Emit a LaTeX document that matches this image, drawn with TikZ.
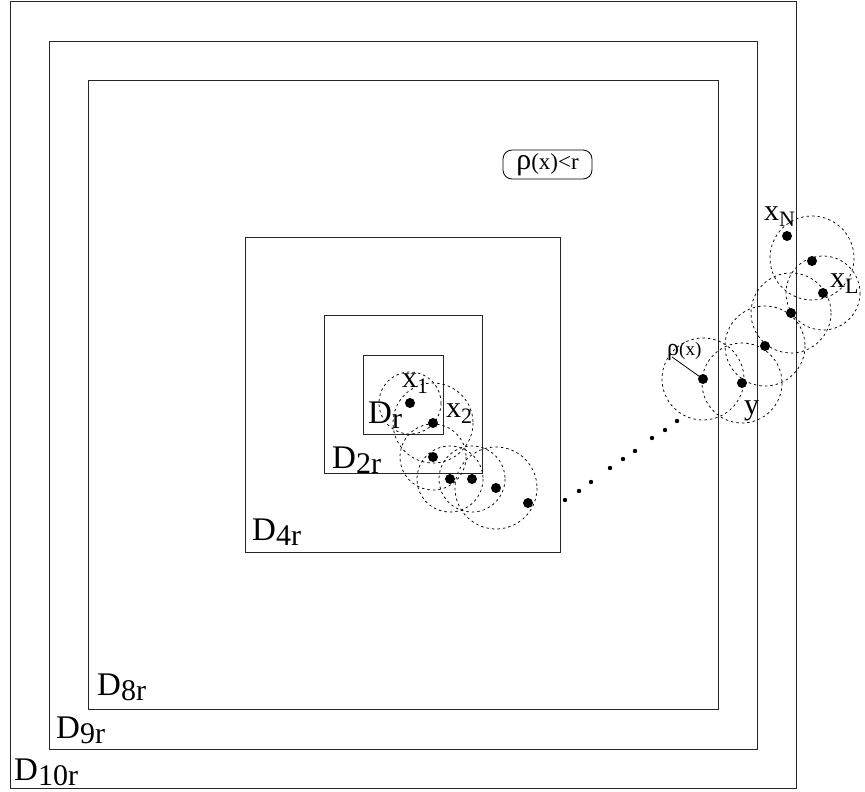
\documentclass[tikz,border=0pt]{standalone}
\usepackage{fontspec}
\setmainfont{Liberation Serif}
\begin{document}
\begin{tikzpicture}[x=1pt,y=-1pt,
  sq/.style={draw=black!85,line width=0.9pt},
  dcirc/.style={draw,line width=0.75pt,dash pattern=on 2.5pt off 3pt},
  bigdot/.style={fill=black},
  lab/.style={anchor=base west,inner sep=0pt,font=\fontsize{33}{35}\selectfont},
  sublab/.style={anchor=base west,inner sep=0pt,font=\fontsize{30}{32}\selectfont}]
\useasboundingbox (0,0) rectangle (865,792);
% squares
\draw[sq] (10,1) rectangle (796,788);
\draw[sq] (49,41) rectangle (757,749);
\draw[sq] (88,80) rectangle (718,709);
\draw[sq] (245,237) rectangle (560,552);
\draw[sq] (324,315) rectangle (482,473);
\draw[sq] (363,355) rectangle (443,434);
% labels of squares
\newcommand{\Dlab}[1]{D\raisebox{-5pt}{\fontsize{30}{32}\selectfont #1}}
\node[lab] (l10) at (14,780) {\Dlab{10r}};
\node[lab] (l9) at (56,738) {\Dlab{9r}};
\node[lab] (l8) at (97,695) {\Dlab{8r}};
\node[lab] (l4) at (252,540) {\Dlab{4r}};
\node[lab] (l2) at (332,468) {\Dlab{2r}};
\node[lab] (l1) at (368,423) {\Dlab{r}};
% box
\node[draw,rounded corners=9pt,line width=0.8pt,minimum width=89pt,minimum height=29pt,inner sep=0pt] (cond) at (547.5,164.5)
  {\fontsize{30}{32}\selectfont ρ\fontsize{23}{25}\selectfont(x)<r};
% left chain
\foreach \n/\x/\y/\r in {a/410/403/31, b/433/423/40, c/433/457/33, d/450/479/33, e/472/479/33, f/496/488/41}{
  \draw[dcirc] (\x,\y) circle (\r);
  \fill[bigdot] (\x,\y) circle (5) coordinate (\n);
}
\fill[bigdot] (528,503) circle (5);
% small dots
\foreach \x/\y in {565/500,579/491,591/482,610/468,623/459,635/451,652/438,665/430,677/421}{
  \fill (\x,\y) circle (2.2);
}
% right cluster
\foreach \n/\x/\y/\r in {p/703/379/41, q/742/383/40, s/765/346/40, t/791/313/40, u/812/258/42, v/823/293/37}{
  \draw[dcirc] (\x,\y) circle (\r);
}
\foreach \n/\x/\y in {p/703/379, q/742/383, s/765/346, t/791/313, u/812/261, v/823/293, w/787/236}{
  \fill[bigdot] (\x,\y) circle (5) coordinate (\n);
}
\coordinate (rhoend) at (672,357);
\draw[line width=0.8pt] (rhoend) -- (p);
% point labels
\node[sublab] (x1) at (402,387) {x\raisebox{-6pt}{\fontsize{22}{24}\selectfont 1}};
\node[sublab] (x2) at (446,417) {x\raisebox{-6pt}{\fontsize{22}{24}\selectfont 2}};
\node[sublab] (xN) at (764,220) {x\raisebox{-6pt}{\fontsize{22}{24}\selectfont N}};
\node[sublab] (xL) at (830,287) {x\raisebox{-6pt}{\fontsize{22}{24}\selectfont L}};
\node[sublab] (yl) at (744,414) {y};
\node[anchor=base west,inner sep=0pt] (rho) at (667,355) {\fontsize{24}{26}\selectfont ρ\fontsize{19}{21}\selectfont(x)};
\end{tikzpicture}
\end{document}
